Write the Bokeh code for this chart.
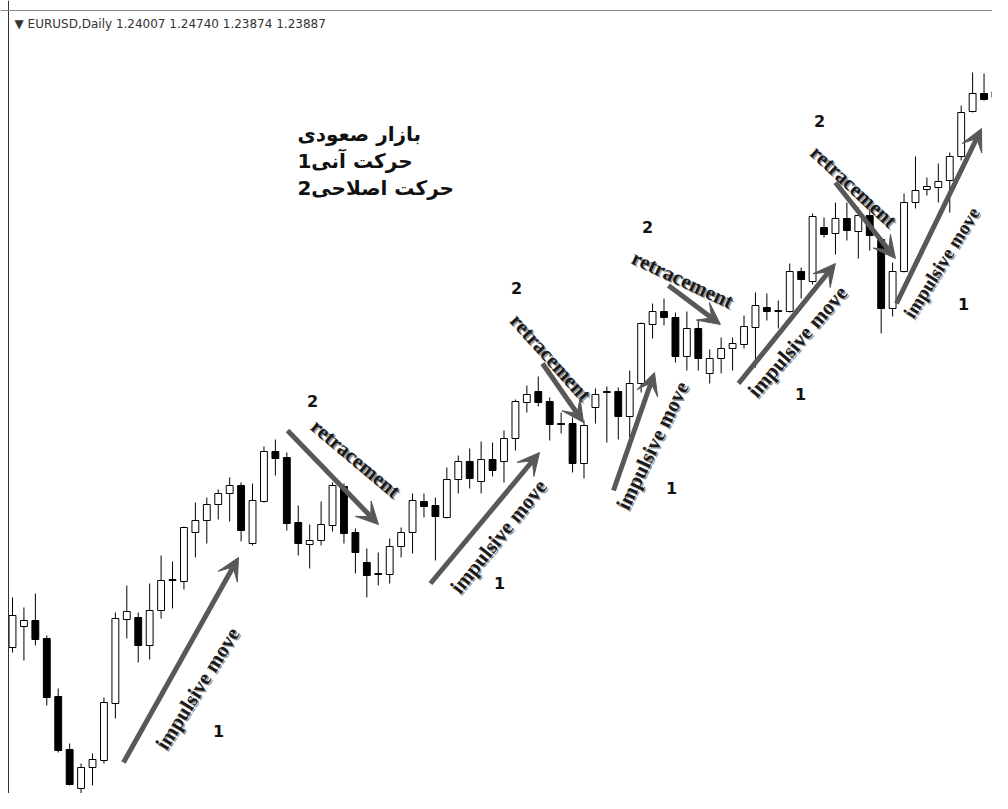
from bokeh.plotting import figure
from bokeh.models import Arrow, VeeHead, Label, Span, ColumnDataSource, Range1d
from bokeh.embed import file_html
from bokeh.resources import INLINE
from bokeh.core.properties import value

# ---------------- data (EURUSD daily candles) ----------------
day = list(range(1, 88))
open_ = [1.1288, 1.1330, 1.1342, 1.1306, 1.1190, 1.1084, 1.1006, 1.1048, 1.1062, 1.1176,
         1.1344, 1.1348, 1.1292, 1.1362, 1.1422, 1.1420, 1.1518, 1.1542, 1.1574, 1.1596,
         1.1612, 1.1496, 1.1580, 1.1680, 1.1668, 1.1538, 1.1494, 1.1502, 1.1532, 1.1610,
         1.1518, 1.1458, 1.1434, 1.1434, 1.1490, 1.1518, 1.1580, 1.1572, 1.1548, 1.1624,
         1.1660, 1.1620, 1.1664, 1.1660, 1.1706, 1.1778, 1.1800, 1.1780, 1.1736, 1.1736,
         1.1656, 1.1768, 1.1798, 1.1800, 1.1750, 1.1816, 1.1934, 1.1960, 1.1948, 1.1870,
         1.1926, 1.1836, 1.1866, 1.1886, 1.1894, 1.1928, 1.1968, 1.1960, 1.1960, 1.2040,
         1.2020, 1.2128, 1.2116, 1.2146, 1.2120, 1.2152, 1.2104, 1.1966, 1.2040, 1.2178,
         1.2204, 1.2208, 1.2222, 1.2270, 1.2360, 1.2396, 1.2388]
high = [1.1388, 1.1368, 1.1396, 1.1312, 1.1206, 1.1096, 1.1056, 1.1076, 1.1188, 1.1358,
        1.1412, 1.1358, 1.1416, 1.1472, 1.1460, 1.1530, 1.1578, 1.1588, 1.1604, 1.1628,
        1.1618, 1.1616, 1.1690, 1.1704, 1.1678, 1.1572, 1.1534, 1.1580, 1.1618, 1.1616,
        1.1526, 1.1486, 1.1478, 1.1506, 1.1528, 1.1596, 1.1596, 1.1588, 1.1648, 1.1672,
        1.1686, 1.1700, 1.1698, 1.1722, 1.1784, 1.1812, 1.1830, 1.1788, 1.1758, 1.1748,
        1.1742, 1.1806, 1.1810, 1.1808, 1.1842, 1.1938, 1.1976, 1.1986, 1.1958, 1.1960,
        1.1942, 1.1884, 1.1908, 1.1908, 1.1952, 1.1998, 1.1996, 1.1982, 1.2056, 1.2048,
        1.2156, 1.2148, 1.2178, 1.2178, 1.2168, 1.2166, 1.2108, 1.2058, 1.2196, 1.2270,
        1.2228, 1.2256, 1.2278, 1.2372, 1.2438, 1.2436, 1.2452]
low = [1.1278, 1.1262, 1.1292, 1.1172, 1.1078, 1.1012, 1.0992, 1.1012, 1.1056, 1.1146,
       1.1306, 1.1258, 1.1264, 1.1346, 1.1366, 1.1404, 1.1468, 1.1496, 1.1544, 1.1540,
       1.1500, 1.1492, 1.1578, 1.1632, 1.1522, 1.1472, 1.1446, 1.1492, 1.1520, 1.1496,
       1.1436, 1.1388, 1.1412, 1.1416, 1.1468, 1.1476, 1.1548, 1.1462, 1.1546, 1.1596,
       1.1606, 1.1596, 1.1630, 1.1618, 1.1682, 1.1758, 1.1770, 1.1702, 1.1716, 1.1638,
       1.1626, 1.1736, 1.1698, 1.1704, 1.1708, 1.1798, 1.1906, 1.1932, 1.1858, 1.1842,
       1.1842, 1.1816, 1.1836, 1.1842, 1.1886, 1.1848, 1.1942, 1.1926, 1.1958, 1.1986,
       1.2014, 1.2108, 1.2074, 1.2102, 1.2066, 1.2082, 1.1916, 1.1950, 1.2038, 1.2166,
       1.2192, 1.2178, 1.2158, 1.2262, 1.2358, 1.2382, 1.2352]
close = [1.1352, 1.1342, 1.1304, 1.1188, 1.1082, 1.1014, 1.1048, 1.1064, 1.1178, 1.1346,
         1.1360, 1.1292, 1.1362, 1.1422, 1.1424, 1.1528, 1.1542, 1.1574, 1.1596, 1.1612,
         1.1522, 1.1582, 1.1680, 1.1666, 1.1536, 1.1496, 1.1502, 1.1534, 1.1612, 1.1516,
         1.1478, 1.1432, 1.1436, 1.1490, 1.1518, 1.1582, 1.1570, 1.1550, 1.1624, 1.1660,
         1.1626, 1.1664, 1.1642, 1.1706, 1.1780, 1.1794, 1.1778, 1.1734, 1.1734, 1.1656,
         1.1732, 1.1794, 1.1800, 1.1750, 1.1816, 1.1936, 1.1960, 1.1948, 1.1870, 1.1926,
         1.1866, 1.1866, 1.1886, 1.1896, 1.1930, 1.1972, 1.1960, 1.1962, 1.2040, 1.2024,
         1.2150, 1.2114, 1.2146, 1.2122, 1.2152, 1.2112, 1.1966, 1.2040, 1.2178, 1.2202,
         1.2210, 1.2220, 1.2270, 1.2358, 1.2396, 1.2384, 1.2400]

header_text = "\u25BC EURUSD,Daily  1.24007 1.24740 1.23874 1.23887"

# annotation arrows: (start day, start price, end day, end price)
arrow_x0 = [10.71, 25.06, 37.57, 47.37, 53.58, 58.39, 64.52, 73.00, 78.34]
arrow_y0 = [1.1058, 1.1722, 1.1416, 1.1856, 1.1602, 1.2012, 1.1816, 1.2218, 1.1976]
arrow_x1 = [20.77, 33.02, 47.11, 50.96, 57.17, 62.94, 73.00, 78.25, 85.78]
arrow_y1 = [1.1468, 1.1534, 1.1678, 1.1738, 1.1838, 1.1934, 1.2056, 1.2066, 1.2326]

move_text = ["impulsive move", "retracement", "impulsive move", "retracement",
             "impulsive move", "retracement", "impulsive move", "retracement",
             "impulsive move"]
move_x = [17.19, 31.01, 43.52, 48.07, 56.99, 59.62, 69.68, 74.58, 82.28]
move_y = [1.1206, 1.1666, 1.1510, 1.1868, 1.1692, 1.2024, 1.1900, 1.2210, 1.2058]
move_angle = [58, -40, 51, -48, 64, -25, 49, -43, 58]
move_size = ["21px"] * 8 + ["19px"]

wave_text = ["1", "2", "1", "2", "1", "2", "1", "2", "1"]
wave_x = [19.02, 27.25, 43.61, 45.09, 58.66, 56.56, 69.94, 71.60, 84.20]
wave_y = [1.1122, 1.1782, 1.1418, 1.2008, 1.1608, 1.2130, 1.1796, 1.2342, 1.1976]

fa_lines = ["بازار صعودی", "1حرکت آنی", "2حرکت اصلاحی"]
fa_x = [25.93, 25.93, 25.93]
fa_y = [1.2316, 1.2262, 1.2208]

# ---------------- figure ----------------
p = figure(width=992, height=793, output_backend="svg", toolbar_location=None,
           x_range=Range1d(-0.05, 86.74), y_range=Range1d(1.0996, 1.2582),
           x_axis_location=None, y_axis_location=None, min_border=0)
p.grid.visible = False
p.outline_line_color = None
p.background_fill_color = "white"
p.border_fill_color = "white"

# frame lines (left and top)
p.add_layout(Span(location=0.65, dimension="height", line_color="#333333", line_width=1))
p.add_layout(Span(location=1.2562, dimension="width", line_color="#8a8a8a", line_width=1))

up = [c >= o for o, c in zip(open_, close)]
src = ColumnDataSource(dict(
    day=day, open=open_, high=high, low=low, close=close,
    top=[max(o, c) for o, c in zip(open_, close)],
    bottom=[min(o, c) for o, c in zip(open_, close)],
    fill=["white" if u else "black" for u in up],
))

p.segment(x0="day", y0="high", x1="day", y1="low", source=src,
          line_color="black", line_width=1)
p.vbar(x="day", width=0.6, top="top", bottom="bottom", source=src,
       fill_color="fill", line_color="black", line_width=1)

# arrows
for x0, y0, x1, y1 in zip(arrow_x0, arrow_y0, arrow_x1, arrow_y1):
    p.add_layout(Arrow(x_start=x0, y_start=y0, x_end=x1, y_end=y1,
                       line_color="#585858", line_width=5,
                       end=VeeHead(size=22, fill_color="#585858", line_color="#585858",
                                   line_width=1)))

msrc = ColumnDataSource(dict(x=move_x, y=move_y, text=move_text, angle=move_angle,
                             size=move_size))
p.text(x="x", y="y", text="text", angle="angle", angle_units="deg", source=msrc,
       x_offset=1.5, y_offset=1.5,
       text_font=value("Liberation Serif"), text_font_style="bold",
       text_font_size="size", text_color="#9a9a9a",
       text_align="center", text_baseline="middle")
p.text(x="x", y="y", text="text", angle="angle", angle_units="deg", source=msrc,
       text_font=value("Liberation Serif"), text_font_style="bold",
       text_font_size="size", text_color="#1a1a1a",
       text_align="center", text_baseline="middle")

wsrc = ColumnDataSource(dict(x=wave_x, y=wave_y, text=wave_text))
p.text(x="x", y="y", text="text", source=wsrc,
       text_font=value("DejaVu Sans"), text_font_style="bold",
       text_font_size="16px", text_color="#111111",
       text_align="center", text_baseline="middle")

fsrc = ColumnDataSource(dict(x=fa_x, y=fa_y, text=fa_lines))
p.text(x="x", y="y", text="text", source=fsrc,
       text_font=value("DejaVu Sans"), text_font_style="bold",
       text_font_size="20px", text_color="#111111",
       text_align="left", text_baseline="middle")

p.add_layout(Label(x=14, y=770, x_units="screen", y_units="screen", text=header_text,
                   text_font="DejaVu Sans", text_font_size="12px", text_color="#333333",
                   text_baseline="middle", text_align="left"))

open("out.html", "w").write(file_html(p, INLINE))
